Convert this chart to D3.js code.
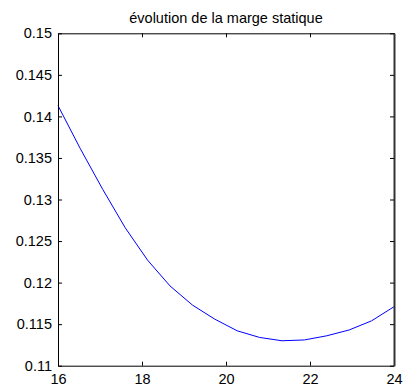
<!DOCTYPE html>
<html>
<head>
<meta charset="utf-8">
<script src="https://cdn.jsdelivr.net/npm/d3@7"></script>
<style>
  html, body { margin: 0; padding: 0; background: #fff; }
  svg { display: block; }
  text { font-family: "Liberation Sans", Arial, sans-serif; }
</style>
</head>
<body>
<svg id="chart" width="403" height="387"></svg>
<script>
const title = "évolution de la marge statique";
const xValues = [16, 16.533, 17.067, 17.6, 18.133, 18.667, 19.2, 19.733, 20.267, 20.8, 21.333, 21.867, 22.4, 22.933, 23.467, 24];
const yValues = [0.1413, 0.1361, 0.1312, 0.1266, 0.1227, 0.1196, 0.1173, 0.1156, 0.1142, 0.1134, 0.1130, 0.1131, 0.1136, 0.1143, 0.1154, 0.1171];
const xTicks = [16, 18, 20, 22, 24];
const xTickLabels = ["16", "18", "20", "22", "24"];
const yTicks = [0.11, 0.115, 0.12, 0.125, 0.13, 0.135, 0.14, 0.145, 0.15];
const yTickLabels = ["0.11", "0.115", "0.12", "0.125", "0.13", "0.135", "0.14", "0.145", "0.15"];

const svg = d3.select("#chart");
const L = 58, R = 394, T = 33.3, B = 365.7;
const x = d3.scaleLinear().domain([16, 24]).range([L, R]);
const y = d3.scaleLinear().domain([0.11, 0.15]).range([B, T]);
const fs = "14.5px";

// Box
svg.append("rect").attr("x", L).attr("y", T).attr("width", R - L).attr("height", B - T)
  .attr("fill", "#fff").attr("stroke", "none");

// Curve
svg.append("path")
  .datum(xValues.map((d, i) => [d, yValues[i]]))
  .attr("fill", "none").attr("stroke", "#0000ff").attr("stroke-width", 1)
  .attr("d", d3.line().x(d => x(d[0])).y(d => y(d[1])));

function style(g) {
  g.select(".domain").attr("stroke", "#000").attr("stroke-width", 1);
  g.selectAll(".tick line").attr("stroke", "#000");
  g.selectAll(".tick text").attr("fill", "#000").style("font-size", fs)
    .style("font-family", '"Liberation Sans", Arial, sans-serif');
}

const xFmt = d => xTickLabels[xTicks.indexOf(d)];
const yFmt = d => yTickLabels[yTicks.indexOf(d)];

svg.append("g").attr("transform", `translate(0,${B})`)
  .call(d3.axisBottom(x).tickValues(xTicks).tickFormat(xFmt).tickSizeInner(-4).tickSizeOuter(0).tickPadding(8))
  .call(style);
svg.append("g").attr("transform", `translate(0,${T})`)
  .call(d3.axisTop(x).tickValues(xTicks).tickFormat("").tickSizeInner(-4).tickSizeOuter(0))
  .call(style);
svg.append("g").attr("transform", `translate(${L},0)`)
  .call(d3.axisLeft(y).tickValues(yTicks).tickFormat(yFmt).tickSizeInner(-4).tickSizeOuter(0).tickPadding(6))
  .call(style);
const rightG = svg.append("g").attr("transform", `translate(${R},0)`)
  .call(d3.axisRight(y).tickValues(yTicks).tickFormat("").tickSizeInner(-4).tickSizeOuter(0))
  .call(style);
rightG.select(".domain").attr("stroke", "#333").attr("stroke-width", 2);

// Title
svg.append("text").attr("x", (L + R) / 2).attr("y", 22.5)
  .attr("text-anchor", "middle").style("font-size", fs).attr("fill", "#000")
  .text(title);
</script>
</body>
</html>
